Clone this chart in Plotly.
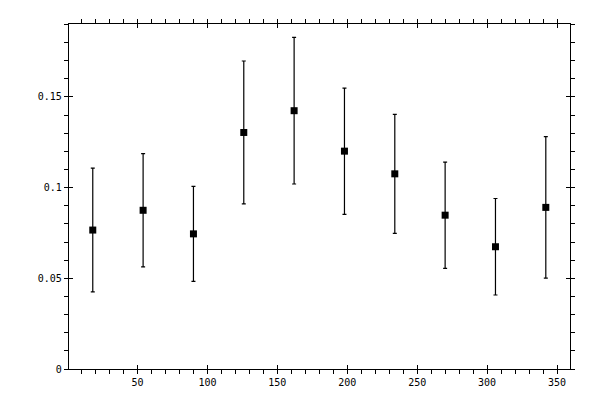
import plotly.graph_objects as go

# bin centres (deg) and measured values with symmetric errors
angle = [18, 54, 90, 126, 162, 198, 234, 270, 306, 342]
value = [0.0766, 0.0875, 0.0745, 0.1304, 0.1424, 0.1201, 0.1076, 0.0848, 0.0674, 0.0891]
error = [0.0341, 0.0312, 0.0262, 0.0394, 0.0404, 0.0348, 0.0328, 0.0293, 0.0266, 0.0390]

x_ticks = [50, 100, 150, 200, 250, 300, 350]
y_ticks = [0, 0.05, 0.1, 0.15]
y_labels = ["0", "0.05", "0.1", "0.15"]

x_range = [1.0, 359.3]
y_range = [0, 0.1902]

fig = go.Figure()
fig.add_trace(go.Scatter(
    x=angle, y=value, mode="markers",
    marker=dict(symbol="square", size=7, color="black"),
    error_y=dict(type="data", array=error, color="black", thickness=1.2, width=2),
    showlegend=False,
))

font = dict(family="DejaVu Sans Mono", size=10, color="black")

# the page adds ~8px body margin, so margins are shifted to compensate
fig.update_layout(
    width=600, height=400,
    margin=dict(l=61, r=38, t=11, b=39),
    plot_bgcolor="white", paper_bgcolor="white",
    font=font,
    xaxis=dict(
        range=x_range, tickvals=x_ticks, showgrid=False, zeroline=False,
        showline=True, linecolor="black", linewidth=1.2, mirror="allticks",
        ticks="outside", ticklen=4, tickcolor="black", tickwidth=1,
        minor=dict(dtick=10, tick0=0, ticks="outside", ticklen=4, tickcolor="black", showgrid=False),
        tickfont=font,
    ),
    yaxis=dict(
        range=y_range, tickvals=y_ticks, ticktext=y_labels, showgrid=False, zeroline=False,
        showline=True, linecolor="black", linewidth=1.2, mirror="allticks",
        ticks="outside", ticklen=4, tickcolor="black", tickwidth=1,
        minor=dict(dtick=0.01, tick0=0, ticks="outside", ticklen=4, tickcolor="black", showgrid=False),
        tickfont=font,
    ),
    # overlay axes that add the inner half of the major ticks
    xaxis2=dict(
        overlaying="x", range=x_range, tickvals=x_ticks, showticklabels=False,
        showgrid=False, zeroline=False, showline=False, mirror="allticks",
        ticks="inside", ticklen=4, tickcolor="black", tickwidth=1,
    ),
    yaxis2=dict(
        overlaying="y", range=y_range, tickvals=y_ticks, showticklabels=False,
        showgrid=False, zeroline=False, showline=False, mirror="allticks",
        ticks="inside", ticklen=4, tickcolor="black", tickwidth=1,
    ),
)

# invisible trace so the overlay axes are drawn
fig.add_trace(go.Scatter(x=[None], y=[None], xaxis="x2", yaxis="y2", showlegend=False, hoverinfo="skip"))

fig.write_html("out.html")
